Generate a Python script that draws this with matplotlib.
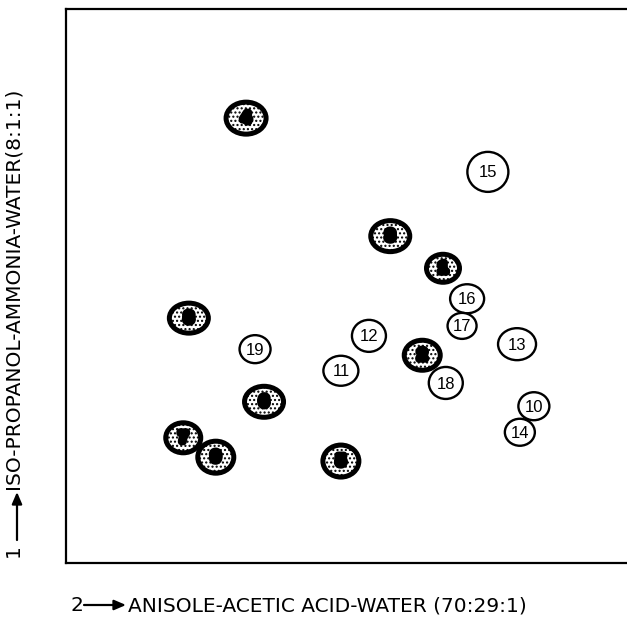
import matplotlib
matplotlib.use("Agg")
import matplotlib.pyplot as plt
from matplotlib.patches import Ellipse
import matplotlib.patheffects as pe

# Spot data (Rf values, solvent 2 on x, solvent 1 on y)
spot_labels = ["1", "2", "3", "4", "5", "6", "7", "8", "9", "10",
               "11", "12", "13", "14", "15", "16", "17", "18", "19"]
rf_x = [0.672, 0.635, 0.578, 0.321, 0.490, 0.353, 0.209, 0.219, 0.267, 0.834,
        0.490, 0.540, 0.804, 0.809, 0.752, 0.715, 0.706, 0.677, 0.337]
rf_y = [0.532, 0.375, 0.590, 0.803, 0.184, 0.291, 0.226, 0.442, 0.191, 0.283,
        0.347, 0.410, 0.395, 0.236, 0.706, 0.477, 0.428, 0.325, 0.386]
stained = [True] * 9 + [False] * 10
# spot dimensions in pixels (width, height)
spot_w = [33, 36, 39, 40, 36, 39, 35, 39, 36, 31, 35, 34, 38, 30, 41, 34, 29, 34, 31]
spot_h = [28, 30, 31, 32, 32, 31, 30, 30, 32, 28, 30, 32, 32, 27, 40, 29, 26, 32, 28]

xlabel_text = "ANISOLE-ACETIC ACID-WATER (70:29:1)"
ylabel_text = "ISO-PROPANOL-AMMONIA-WATER(8:1:1)"

W, H = 627, 620
fig = plt.figure(figsize=(W / 100, H / 100), dpi=100)
ax_l, ax_r, ax_t, ax_b = 66, 640, 9, 563
ax = fig.add_axes([ax_l / W, 1 - ax_b / H, (ax_r - ax_l) / W, (ax_b - ax_t) / H])
ax.set_xlim(0, (ax_r - ax_l) / 561)
ax.set_ylim(0, 1)
ax_wpx = ax_r - ax_l
ax_hpx = ax_b - ax_t
xunit = ((ax_r - ax_l) / 561) / ax_wpx
yunit = 1 / ax_hpx

for s in ["left", "top", "bottom"]:
    ax.spines[s].set_linewidth(1.6)
ax.spines["right"].set_visible(False)
ax.set_xticks([])
ax.set_yticks([])

plt.rcParams['hatch.linewidth'] = 1.0

for lab, x, y, st, w, h in zip(spot_labels, rf_x, rf_y, stained, spot_w, spot_h):
    if st:
        e = Ellipse((x, y), w * xunit, h * yunit, facecolor="white",
                    edgecolor="black", linewidth=3.6, hatch="....", zorder=2)
        ax.add_patch(e)
        ax.text(x, y, lab, ha="center", va="center", fontsize=10.5,
                fontweight="bold", color="black", family="Liberation Sans",
                path_effects=[pe.withStroke(linewidth=5, foreground="black")],
                zorder=3)
    else:
        e = Ellipse((x, y), w * xunit, h * yunit, facecolor="white",
                    edgecolor="black", linewidth=1.7, zorder=2)
        ax.add_patch(e)
        ax.text(x, y - 0.002, lab, ha="center", va="center", fontsize=12,
                color="black", family="Liberation Sans", zorder=3)

fs = 14.5
# x-axis label with arrow
fig.text(70 / W, 1 - 611 / H, "2", fontsize=fs, ha="left", va="baseline")
fig.add_artist(matplotlib.patches.FancyArrowPatch(
    (84 / W, 1 - 605 / H), (126 / W, 1 - 605 / H), transform=fig.transFigure,
    arrowstyle="-|>,head_length=7,head_width=3", color="black", linewidth=1.6,
    shrinkA=0, shrinkB=0))
fig.text(128 / W, 1 - 611 / H, xlabel_text, fontsize=fs, ha="left", va="baseline")

# y-axis label with arrow
fig.text(23 / W, 1 - 557 / H, "1", fontsize=fs, ha="right", va="bottom",
         rotation=90)
fig.add_artist(matplotlib.patches.FancyArrowPatch(
    (17 / W, 1 - 540 / H), (17 / W, 1 - 492 / H), transform=fig.transFigure,
    arrowstyle="-|>,head_length=7,head_width=3", color="black", linewidth=1.6,
    shrinkA=0, shrinkB=0))
fig.text(23 / W, 1 - 489 / H, ylabel_text, fontsize=fs, ha="right", va="bottom",
         rotation=90)

fig.savefig("out.png", dpi=100)
